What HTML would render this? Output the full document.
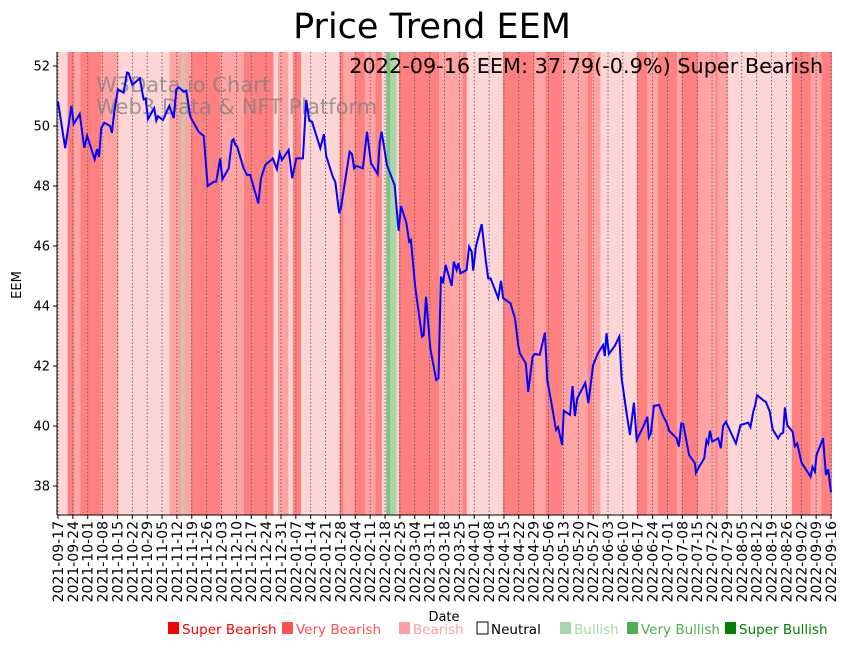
<!DOCTYPE html>
<html><head><meta charset="utf-8">
<style>
body{margin:0;background:#fff;width:848px;height:646px;overflow:hidden;font-family:"DejaVu Sans","Liberation Sans",sans-serif;}
svg{display:block}
</style></head>
<body>
<svg id="chart" width="848" height="646">
<text x="432" y="38" font-size="35" text-anchor="middle">Price Trend EEM</text>
<g id="bands"></g>
<g id="grid"></g>
<g fill="#808080" fill-opacity="0.75" font-size="21">
<text x="96" y="92">W3Data.io Chart</text>
<text x="96" y="114">Web3 Data &amp; NFT Platform</text>
</g>
<path id="line" fill="none" stroke="#0000ff" stroke-width="2"/>
<text x="823" y="73" font-size="20.8" text-anchor="end">2022-09-16 EEM: 37.79(-0.9%) Super Bearish</text>
<g id="axes"></g>
<text transform="translate(21,285) rotate(-90)" font-size="13" text-anchor="middle">EEM</text>
<text x="444" y="621" font-size="13" text-anchor="middle">Date</text>
<g id="legend" font-size="13.5"></g>
</svg>
<script>
const days=[0,3.4,6.3,7.4,10.2,12.4,13.7,17.3,18.4,19.3,20.4,21.8,24.6,25.4,26.5,28.2,30.9,32.5,33.3,35.0,38.5,40.3,41.3,42.4,45.3,46.3,47.1,49.4,52.4,54.5,55.7,56.8,59.2,60.4,62.3,66.2,68.6,70.5,73.3,74.5,76.4,77.4,80.4,81.9,82.7,83.5,84.4,87.4,89.0,90.5,94.3,95.6,97.6,101.2,103.1,104.4,105.5,108.6,110.3,112.2,115.3,116.9,118.3,119.6,123.5,125.2,126.3,129.5,130.6,132.4,133.2,137.3,138.4,139.5,140.4,143.6,145.5,147.4,150.5,151.5,152.4,154.9,158.5,160.4,161.5,164.0,165.4,166.2,168.2,171.4,172.2,173.3,175.3,178.1,179.2,180.3,181.3,182.5,185.4,186.4,187.7,188.5,189.6,192.4,193.6,194.8,195.5,196.8,199.5,201.5,202.6,203.7,207.3,208.6,209.6,213.1,215.2,216.7,217.5,220.3,221.4,223.5,224.6,226.9,229.3,230.4,232.4,234.5,235.5,237.4,238.2,241.1,242.3,243.4,244.5,248.3,249.7,252.0,254.4,256.7,257.5,258.3,259.4,262.2,264.3,265.4,267.4,269.3,271.2,272.5,275.6,277.5,278.2,279.2,280.6,283.1,284.7,286.6,287.8,291.3,292.4,293.5,294.4,297.2,299.9,300.4,301.9,304.3,305.4,306.2,307.0,308.1,310.9,312.1,313.2,314.5,319.2,321.4,325.0,326.1,327.4,328.2,329.2,332.4,333.3,335.2,336.5,339.1,340.3,341.5,342.3,343.4,345.9,347.0,348.1,350.1,354.4,355.3,356.4,357.2,360.3,361.6,362.7,364];
const prices=[50.81,49.26,50.67,50.07,50.4,49.27,49.67,48.89,49.23,48.97,49.93,50.11,50.0,49.77,50.48,51.22,51.11,51.78,51.76,51.37,51.59,50.89,50.92,50.23,50.59,50.18,50.33,50.2,50.67,50.26,51.22,51.29,51.14,51.18,50.31,49.81,49.67,48.0,48.14,48.14,48.92,48.22,48.59,49.51,49.56,49.37,49.31,48.59,48.37,48.37,47.42,48.26,48.7,48.92,48.56,49.09,48.87,49.2,48.26,48.92,48.92,50.87,50.18,50.14,49.26,49.73,49.0,48.29,48.14,47.09,47.26,49.14,49.07,48.59,48.67,48.59,49.81,48.76,48.4,49.44,49.81,48.7,48.03,46.51,47.33,46.78,46.14,46.2,44.64,42.98,43.03,44.31,42.59,41.53,41.59,44.98,44.76,45.37,44.67,45.48,45.2,45.42,45.09,45.2,45.98,45.81,45.18,45.98,46.73,45.48,44.92,44.92,44.26,44.84,44.26,44.09,43.59,42.7,42.42,42.09,41.14,42.31,42.4,42.37,43.11,41.53,40.76,39.87,39.96,39.37,40.51,40.37,41.33,40.33,40.92,41.44,40.76,42.03,42.44,42.7,42.33,43.09,42.4,42.67,42.98,41.59,40.59,39.7,40.78,39.53,39.98,40.31,39.62,39.76,40.67,40.7,40.37,40.11,39.84,39.59,39.31,40.09,40.07,39.03,38.76,38.44,38.64,38.92,39.53,39.42,39.84,39.48,39.59,39.26,40.0,40.14,39.42,40.03,40.11,39.96,40.48,40.67,41.03,40.84,40.81,40.48,39.89,39.59,39.73,39.78,40.62,40.03,39.81,39.33,39.42,38.78,38.31,38.64,38.48,39.03,39.59,38.37,38.56,37.79];
const bandStart=[0,5,8,11,21,29,53,59,60,63,77,88,102,104,109,111,115,133,135,140,145,150,153,155,157,160,161,180,191,193,210,225,230,238,250,252,256,273,278,283,292,294,302,310,311,316,346,355,360];
const bandEnd=[5,8,11,21,29,53,59,60,63,77,88,102,104,109,111,115,133,135,140,145,150,153,155,157,160,161,180,191,193,210,225,230,238,250,252,256,273,278,283,292,294,302,310,311,316,346,355,360,365];
const bandLevel=["L","S","M","S","M","L","M","GL","M","S","M","S","L","M","L","S","L","S","M","S","M","S","L","GS","GL","L","S","M","S","L","S","M","S","M","S","M","L","S","M","S","M","S","M","S","M","L","S","M","S"];
const yTicks=[38,40,42,44,46,48,50,52];
const legendLabels=["Super Bearish","Very Bearish","Bearish","Neutral","Bullish","Very Bullish","Super Bullish"];
const legendColors=["#ff0000","#ff5050","#ffa0a0","none","#a8d8a8","#4caf50","#008000"];
const legendX=[167,281,398,476,559,626,724];

const X0=58,PXD=2.1236,L=57,R=832,T=52,B=515;
const xs=d=>X0+d*PXD;
const ys=v=>66+(52-v)*30;
const NS="http://www.w3.org/2000/svg";
const bandColor={L:"#ffd6d6",M:"#ffa3a3",S:"#ff8080",GL:"#aad6aa",GS:"#80c080"};
function mk(tag,attrs,parent){const e=document.createElementNS(NS,tag);for(const k in attrs)e.setAttribute(k,attrs[k]);parent.appendChild(e);return e;}
const bands=document.getElementById('bands');
bandStart.forEach((s,i)=>{
  const x1=Math.max(L,xs(s)-1),x2=Math.min(R,xs(bandEnd[i])-1);
  const r=mk('rect',{x:x1,y:T,width:Math.max(0,x2-x1),height:B-T,fill:bandColor[bandLevel[i]]},bands);
  
  
});
const grid=document.getElementById('grid'),axes=document.getElementById('axes');
const start=new Date(Date.UTC(2021,8,17));
for(let d=0;d<=364;d+=7){
  const x=xs(d);
  const g=mk('line',{x1:x,x2:x,y1:T,y2:B,stroke:'#555',"stroke-width":0.8,"stroke-dasharray":"1.5,2"},grid);
  
  
  mk('line',{x1:x,x2:x,y1:B,y2:B+4,stroke:'#000'},axes);
  const dt=new Date(start.getTime()+d*86400000);
  const lab=dt.toISOString().slice(0,10);
  const t=mk('text',{transform:`translate(${x+5},${B+6}) rotate(-90)`,"font-size":14,"text-anchor":"end"},axes);
  t.textContent=lab;
  
  
}
yTicks.forEach(v=>{
  const y=ys(v);
  mk('line',{x1:L-4,x2:L,y1:y,y2:y,stroke:'#000'},axes);
  const t=mk('text',{x:L-7,y:y+4.5,"font-size":13,"text-anchor":"end"},axes);
  t.textContent=v;
  
  
});
mk('line',{x1:L,x2:L,y1:T,y2:B,stroke:'#000'},axes);
mk('line',{x1:L,x2:R,y1:B,y2:B,stroke:'#000'},axes);
document.getElementById('line').setAttribute('d',days.map((d,i)=>(i?'L':'M')+xs(d).toFixed(1)+','+ys(prices[i]).toFixed(1)).join(''));
const leg=document.getElementById('legend');
legendLabels.forEach((lab,i)=>{
  const x=legendX[i];
  const g=mk('g',{},leg);
  
  
  const c=legendColors[i];
  mk('rect',{x:x+1,y:622,width:11,height:12,fill:c==='none'?'#fff':c,stroke:c==='none'?'#000':'none'},g);
  const t=mk('text',{x:x+15,y:634,fill:c==='none'?'#000':c},g);
  t.textContent=lab;
});
</script>
</body></html>
